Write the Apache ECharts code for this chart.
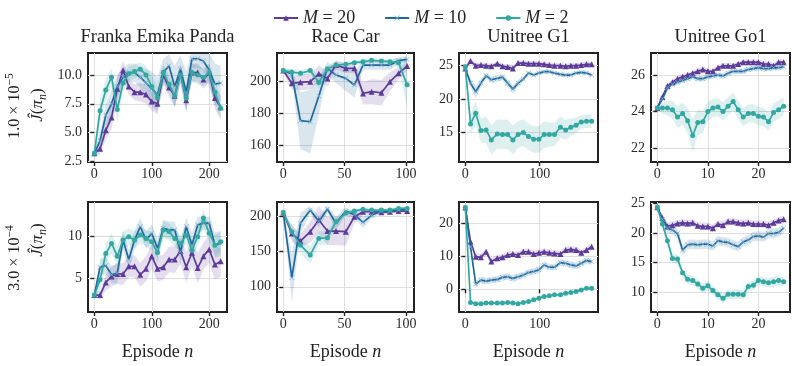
<!DOCTYPE html>
<html><head><meta charset="utf-8">
<script src="https://cdn.jsdelivr.net/npm/echarts@6/dist/echarts.min.js"></script>
<style>html,body{margin:0;padding:0;background:#fff}#c{width:792px;height:366px}</style>
</head><body><div id="c"></div>
<script>
// ---------- tick labels ----------
const frankaXTicks = [0, 100, 200];
const raceXTicks = [0, 50, 100];
const g1XTicks = [0, 100];
const go1XTicks = [0, 10, 20];
const frankaTopYTicks = [2.5, 5.0, 7.5, 10.0];
const raceTopYTicks = [160, 180, 200];
const g1TopYTicks = [15, 20, 25];
const go1TopYTicks = [22, 24, 26];
const frankaBotYTicks = [5, 10];
const raceBotYTicks = [100, 150, 200];
const g1BotYTicks = [0, 10, 20];
const go1BotYTicks = [10, 15, 20, 25];

// ---------- episodes ----------
const frankaX = [0,10,20,30,40,50,60,70,80,90,100,110,120,130,140,150,160,170,180,190,200,210,220];
const raceX = [0,7,14,22,29,36,43,51,58,65,72,80,87,94,101];
const g1X = [0,7,14,21,28,35,43,50,57,64,71,78,85,92,99,106,113,120,128,135,142,149,156,163,170];
const go1X = [0,1,2,3,4,5,6,7,8,9,10,11,12,13,14,15,16,17,18,19,20,21,22,23,24,25];

// ---------- row 1 (1.0e-5) ----------
const frankaTopM20 = [3.2,3.6,5.2,6.3,8.8,10.4,9.0,8.5,8.5,8.3,7.7,7.5,10.0,8.9,8.2,10.2,7.8,10.2,10.2,9.6,10.2,8.0,7.2];
const frankaTopM20Sd = [0.3,0.5,0.8,1.0,1.0,0.8,0.7,0.7,0.8,0.8,0.8,0.9,0.8,0.8,1.0,0.8,1.0,0.8,0.8,0.8,0.8,1.0,1.0];
const frankaTopM10 = [3.2,4.3,6.5,7.5,9.0,9.8,10.2,10.2,9.8,9.3,8.8,8.3,10.2,10.8,9.0,10.5,8.5,11.4,11.4,11.2,10.4,9.2,9.3];
const frankaTopM10Sd = [0.3,0.8,1.0,1.2,1.0,0.8,0.8,0.8,0.9,1.2,1.5,1.5,1.2,1.0,1.8,1.2,1.8,0.8,0.8,0.8,1.5,1.8,1.5];
const frankaTopM2 = [3.2,6.9,8.7,9.8,7.0,9.3,10.1,10.3,10.5,10.0,9.0,8.0,10.2,9.2,8.2,10.0,8.0,10.2,10.0,9.8,10.2,8.5,7.1];
const frankaTopM2Sd = [0.3,1.0,1.0,0.8,1.2,0.8,0.6,0.6,0.6,0.8,1.0,1.0,0.8,0.8,1.0,0.8,1.0,0.8,0.8,0.8,0.8,1.0,1.0];

const raceTopM20 = [207,199,199.6,200,205,202,210.5,208.4,208.4,192.6,193.7,193,200,205.3,209.9];
const raceTopM20Sd = [1,4,5,5,5,5,3,3,3,7,8,8,6,4,3];
const raceTopM10 = [207,204.8,175.4,174.7,191,208.4,204.2,202.1,197.9,210.5,210.5,210.5,210.5,213.3,214.1];
const raceTopM10Sd = [1,3,18,20,12,4,5,8,8,3,3,3,3,2,2];
const raceTopM2 = [207,206,205.3,207,199.5,208,210.5,211,212,212.5,213.5,213,212.6,212,198];
const raceTopM2Sd = [1,2,2,2,4,2,2,1.5,1.5,1.5,1.5,1.5,1.5,3,15];

const g1TopM20 = [24.6,25.7,25,25.1,25,24.9,25.3,24.9,24.8,24.6,25.4,25.4,25.3,25.3,25.3,25.2,25.1,25,25,24.9,25,25,25.1,25.2,25.2];
const g1TopM20Sd = [0.2,0.4,0.4,0.4,0.4,0.4,0.4,0.4,0.4,0.4,0.4,0.4,0.4,0.4,0.4,0.4,0.4,0.4,0.4,0.4,0.4,0.4,0.4,0.4,0.4];
const g1TopM10 = [24.6,22.4,21.1,22.4,23.5,22.9,23.1,23.3,22.4,21.5,22.4,23,23.9,23.6,23.9,24.1,24.1,23.9,23.7,23.6,23.6,23.9,24,23.9,23.6];
const g1TopM10Sd = [0.2,0.6,0.9,0.7,0.5,0.5,0.5,0.5,0.6,0.6,0.5,0.4,0.3,0.3,0.3,0.3,0.3,0.3,0.3,0.3,0.3,0.3,0.3,0.3,0.3];
const g1TopM2 = [24.85,16.3,17.9,15.3,15.4,13.9,14.8,14.7,14.7,13.9,14.7,15,14.4,14,14,14.7,14.7,14.7,15.8,15.4,15.8,16.1,16.6,16.7,16.7];
const g1TopM2Sd = [0.2,1.5,1.8,1.8,2.0,2.2,2.2,2.2,2.2,2.2,2.0,2.0,2.0,2.0,2.0,2.0,1.8,1.8,1.6,1.5,1.3,1.2,1.0,1.0,1.0];

const go1TopM20 = [24.2,24.8,25.4,25.6,25.8,25.9,26,26.1,26.2,26.3,26.2,26.2,26.4,26.5,26.5,26.5,26.6,26.7,26.7,26.7,26.7,26.6,26.6,26.5,26.7,26.7];
const go1TopM20Sd = [0.05,0.15,0.15,0.15,0.15,0.15,0.15,0.15,0.15,0.15,0.15,0.15,0.15,0.15,0.15,0.15,0.15,0.15,0.15,0.15,0.15,0.15,0.15,0.15,0.15,0.15];
const go1TopM10 = [24.2,24.7,25.3,25.5,25.6,25.7,25.8,25.9,25.8,25.8,25.9,25.95,26,25.95,26.1,26.2,26.2,26.2,26.3,26.35,26.4,26.35,26.35,26.4,26.4,26.45];
const go1TopM10Sd = [0.05,0.15,0.15,0.15,0.15,0.15,0.15,0.15,0.15,0.15,0.15,0.15,0.15,0.15,0.15,0.15,0.15,0.15,0.15,0.15,0.15,0.15,0.15,0.15,0.15,0.15];
const go1TopM2 = [24.2,24.2,24.2,24.1,23.7,23.9,23.5,22.7,23.4,23.45,24,24.2,24.25,24,24.3,24.55,24.1,23.7,23.9,23.9,23.75,23.7,23.45,23.95,24.1,24.3];
const go1TopM2Sd = [0.1,0.3,0.4,0.5,0.6,0.6,0.7,0.9,0.7,0.6,0.5,0.5,0.5,0.5,0.5,0.5,0.5,0.5,0.5,0.5,0.5,0.5,0.5,0.5,0.5,0.5];

// ---------- row 2 (3.0e-4) ----------
const frankaBotM20 = [3.0,3.0,4.5,5.2,5.5,5.5,6.4,6.4,5.4,6.1,7.6,6.1,6.3,7.2,7.2,8.2,6.3,8.0,6.2,7.6,8.4,6.6,7.0];
const frankaBotM20Sd = [0.3,0.5,1.0,1.2,1.2,1.3,1.3,1.3,1.4,1.5,1.5,1.5,1.5,1.5,1.6,1.6,1.8,1.6,1.8,1.6,1.6,1.8,1.8];
const frankaBotM10 = [3.0,6.3,6.5,5.4,5.6,9.5,7.2,9.5,11.1,9.5,10.3,8.5,10.9,10.7,10.7,8.1,11.1,8.9,11.3,11.5,11.5,8.9,9.1];
const frankaBotM10Sd = [0.3,1.0,1.0,1.0,1.2,1.2,1.2,1.2,1.0,1.0,1.0,1.2,1.0,1.0,1.0,1.5,1.0,1.5,1.0,0.8,0.8,1.5,1.5];
const frankaBotM2 = [3.0,4.8,7.9,9.1,7.6,9.5,9.9,9.5,10.1,9.7,9.3,8.0,10.7,10.5,9.7,9.1,10.1,8.3,9.9,12.1,10.3,8.9,9.3];
const frankaBotM2Sd = [0.3,1.2,1.2,1.2,1.2,1.0,1.0,1.0,1.0,1.0,1.0,1.2,1.0,1.0,1.0,1.0,1.0,1.2,1.0,1.0,1.0,1.2,1.2];

const raceBotM20 = [206,176.2,165.2,178.6,195.2,179.5,179.5,178.6,200,207.1,207.1,206.2,207.1,208.1,208.1];
const raceBotM20Sd = [2,12,10,15,20,20,20,20,10,5,3,3,3,2,2];
const raceBotM10 = [206,113,190.5,209.5,193,211,190.5,208,203,192,202,208,208,209.5,210.5];
const raceBotM10Sd = [2,35,15,5,8,5,10,5,5,8,5,3,3,2,2];
const raceBotM2 = [206,178.6,159.5,145.2,169,170,192.9,204.8,208.1,210.5,209.5,209.5,209.5,211.9,211.9];
const raceBotM2Sd = [2,10,12,12,10,10,6,4,3,2,2,2,2,2,2];

const g1BotM20 = [24.8,14.4,9.9,9.7,11.4,8.4,9.4,9.7,10.4,10.7,10.4,11.4,11.4,10.7,11.1,11.4,11.1,10.9,10.7,11.9,12.1,11.9,11.1,11.9,12.9];
const g1BotM20Sd = [0.2,1.0,1.0,1.0,1.0,1.0,1.0,1.0,1.0,1.0,1.0,1.0,1.0,1.0,1.0,1.0,1.0,1.0,1.0,1.0,1.0,1.0,1.0,1.0,1.0];
const g1BotM10 = [24.8,12.9,1.6,2.8,2.5,2.8,3,3.6,3.8,3.3,3.8,4.3,5.1,5.4,5.9,7.4,6.7,6.7,8.1,7.9,7.4,7.1,7.9,8.7,8.4];
const g1BotM10Sd = [0.2,1.0,1.0,1.0,1.0,1.0,1.0,1.0,1.0,1.0,1.0,1.0,1.0,1.0,1.0,1.0,1.0,1.0,1.0,1.0,1.0,1.0,1.0,1.0,1.0];
const g1BotM2 = [24.8,-4,-4.4,-4.4,-4.2,-4.2,-4.2,-4.2,-4,-4.2,-4.4,-4,-3.7,-3.2,-2.7,-2.2,-2,-1.7,-1.7,-1.2,-1,-0.7,-0.2,0.3,0.3];
const g1BotM2Sd = [0.2,0.3,0.3,0.3,0.3,0.3,0.3,0.3,0.3,0.3,0.3,0.3,0.3,0.3,0.3,0.3,0.3,0.3,0.3,0.3,0.3,0.3,0.3,0.3,0.3];

const go1BotM20 = [24.3,22.5,21.1,21.3,21.6,21.7,21.6,21.7,21.2,21.1,21.1,20.8,21.5,21.3,21.9,21.9,21.7,21.6,21.7,21.5,21.5,21.5,21.3,21.7,22.1,22.3];
const go1BotM20Sd = [0.1,0.6,0.6,0.6,0.6,0.6,0.6,0.6,0.6,0.6,0.6,0.6,0.6,0.6,0.6,0.6,0.6,0.6,0.6,0.6,0.6,0.6,0.6,0.6,0.6,0.6];
const go1BotM10 = [24.3,22.3,20.8,20.5,19.9,17.1,18,18.1,18,18.1,18.1,17.8,18.7,18.5,18.4,18,17.7,18.5,18.8,19.4,19.5,19.3,19.9,19.9,20.1,20.8];
const go1BotM10Sd = [0.1,0.7,0.8,0.8,0.8,0.8,0.8,0.8,0.8,0.8,0.8,0.8,0.8,0.8,0.8,0.8,0.8,0.8,0.8,0.8,0.8,0.8,0.8,0.8,0.8,0.8];
const go1BotM2 = [24.3,21.5,18.7,15.7,15.6,13.3,12.2,12,11.4,10.7,11.1,10.3,9.6,9,9.7,9.7,9.7,9.6,11,11.2,12,11.8,11.6,11.8,12,11.8];
const go1BotM2Sd = [0.1,0.6,0.8,0.8,0.8,0.8,0.8,0.8,0.8,0.8,0.8,0.8,0.8,0.8,0.8,0.8,0.8,0.8,0.8,0.8,0.8,0.8,0.8,0.8,0.8,0.8];

// ---------- chart ----------
const FONT = '"Liberation Serif", "DejaVu Serif", serif';
const INK = '#222222';
const C20 = '#5d3b98', C10 = '#1f689b', C2 = '#33a8a2';
const C10MARK = '#7aaccf';
const XSYM = 'path://M0,0.8L0.8,0L5,4.2L9.2,0L10,0.8L5.8,5L10,9.2L9.2,10L5,5.8L0.8,10L0,9.2L4.2,5Z';

const titles = ['Franka Emika Panda', 'Race Car', 'Unitree G1', 'Unitree Go1'];
const LEFT = [88, 277, 459, 651], WIDTH = [139, 137, 139, 139];
const TOP = [53, 202], HEIGHT = [109, 110];

const oneDec = v => v.toFixed(1);
const plain = v => String(v);
const panels = [
  {row:0,col:0,x:frankaX,xr:[-11,231],yr:[2.45,11.9],xt:frankaXTicks,yt:frankaTopYTicks,fmt:oneDec,
   m:[frankaTopM20,frankaTopM10,frankaTopM2],sd:[frankaTopM20Sd,frankaTopM10Sd,frankaTopM2Sd]},
  {row:0,col:1,x:raceX,xr:[-5.1,106.6],yr:[149.3,218.1],xt:raceXTicks,yt:raceTopYTicks,fmt:plain,
   m:[raceTopM20,raceTopM10,raceTopM2],sd:[raceTopM20Sd,raceTopM10Sd,raceTopM2Sd]},
  {row:0,col:2,x:g1X,xr:[-8.5,178.5],yr:[10.6,26.9],xt:g1XTicks,yt:g1TopYTicks,fmt:plain,
   m:[g1TopM20,g1TopM10,g1TopM2],sd:[g1TopM20Sd,g1TopM10Sd,g1TopM2Sd]},
  {row:0,col:3,x:go1X,xr:[-1.25,26.25],yr:[21.25,27.2],xt:go1XTicks,yt:go1TopYTicks,fmt:plain,
   m:[go1TopM20,go1TopM10,go1TopM2],sd:[go1TopM20Sd,go1TopM10Sd,go1TopM2Sd]},
  {row:1,col:0,x:frankaX,xr:[-11,231],yr:[1.0,14.0],xt:frankaXTicks,yt:frankaBotYTicks,fmt:plain,
   m:[frankaBotM20,frankaBotM10,frankaBotM2],sd:[frankaBotM20Sd,frankaBotM10Sd,frankaBotM2Sd]},
  {row:1,col:1,x:raceX,xr:[-5.1,106.6],yr:[64,221],xt:raceXTicks,yt:raceBotYTicks,fmt:plain,
   m:[raceBotM20,raceBotM10,raceBotM2],sd:[raceBotM20Sd,raceBotM10Sd,raceBotM2Sd]},
  {row:1,col:2,x:g1X,xr:[-8.5,178.5],yr:[-6.9,26.5],xt:g1XTicks,yt:g1BotYTicks,fmt:plain,
   m:[g1BotM20,g1BotM10,g1BotM2],sd:[g1BotM20Sd,g1BotM10Sd,g1BotM2Sd]},
  {row:1,col:3,x:go1X,xr:[-1.25,26.25],yr:[6.7,25.2],xt:go1XTicks,yt:go1BotYTicks,fmt:plain,
   m:[go1BotM20,go1BotM10,go1BotM2],sd:[go1BotM20Sd,go1BotM10Sd,go1BotM2Sd]}
];
const styles = [
  {name:'M20', color:C20, mark:C20, symbol:'triangle', size:6},
  {name:'M10', color:C10, mark:C10MARK, symbol:XSYM, size:5},
  {name:'M2',  color:C2,  mark:C2, symbol:'circle', size:5}
];

// band drawn as one polygon through the axis scales (api.coord)
function bandSeries(k, data, color) {
  return {type: 'custom', xAxisIndex: k, yAxisIndex: k, silent: true, z: 1,
    data: data, encode: {x: 0, y: [1, 2]},
    renderItem: function (params, api) {
      if (params.dataIndex !== 0) return null;
      const top = [], bot = [];
      for (let i = 0; i < data.length; i++) {
        top.push(api.coord([data[i][0], data[i][2]]));
        bot.push(api.coord([data[i][0], data[i][1]]));
      }
      const cs = params.coordSys;
      return {
        type: 'polygon', silent: true,
        shape: {points: top.concat(bot.reverse())},
        style: {fill: color, opacity: 0.17},
        clipPath: {type: 'rect', shape: {x: cs.x, y: cs.y, width: cs.width, height: cs.height}}
      };
    }};
}

const grid = [], xAxis = [], yAxis = [], series = [];
const labelStyle = {fontFamily: FONT, fontSize: 14, color: '#2a2a2a'};
panels.forEach((p, k) => {
  grid.push({left: LEFT[p.col], top: TOP[p.row], width: WIDTH[p.col], height: HEIGHT[p.row],
    show: true, borderColor: INK, borderWidth: 2, backgroundColor: 'transparent'});
  xAxis.push({gridIndex: k, type: 'value', min: p.xr[0], max: p.xr[1],
    axisLine: {show: false},
    axisTick: {show: true, length: 4, customValues: p.xt, lineStyle: {color: INK, width: 1.4}},
    axisLabel: Object.assign({customValues: p.xt, margin: 5}, labelStyle),
    splitLine: {show: true, lineStyle: {color: '#dedede', width: 1}},
    name: p.row === 1 ? '{t|Episode }{i|n}' : '', nameLocation: 'middle', nameGap: 31,
    nameTextStyle: {fontFamily: FONT, fontSize: 18, color: '#222',
      rich: {t: {fontFamily: FONT, fontSize: 18, color: '#222'},
             i: {fontFamily: FONT, fontSize: 18, fontStyle: 'italic', color: '#222'}}}
  });
  yAxis.push({gridIndex: k, type: 'value', min: p.yr[0], max: p.yr[1],
    axisLine: {show: false},
    axisTick: {show: true, length: 4, customValues: p.yt, lineStyle: {color: INK, width: 1.4}},
    axisLabel: Object.assign({customValues: p.yt, margin: 6, formatter: p.fmt}, labelStyle),
    splitLine: {show: true, lineStyle: {color: '#dedede', width: 1}}
  });
  styles.forEach((s, j) => {
    const bandData = p.x.map((x, i) => [x, p.m[j][i] - p.sd[j][i], p.m[j][i] + p.sd[j][i]]);
    series.push(bandSeries(k, bandData, s.color));
  });
  styles.forEach((s, j) => {
    series.push({name: s.name, type: 'line', xAxisIndex: k, yAxisIndex: k,
      data: p.x.map((x, i) => [x, p.m[j][i]]),
      symbol: s.symbol, symbolSize: s.size, showSymbol: true,
      lineStyle: {color: s.color, width: 1.7}, itemStyle: {color: s.mark}, z: 3 + j});
  });
});

const graphic = [];
titles.forEach((t, c) => {
  graphic.push({type: 'text', x: LEFT[c] + WIDTH[c] / 2, y: 37,
    style: {text: t, fontFamily: FONT, fontSize: 18.5, fill: '#222', align: 'center', verticalAlign: 'middle'}});
});
const rowRich = {
  b: {fontFamily: FONT, fontSize: 16, fill: '#222', verticalAlign: 'bottom'},
  sup: {fontFamily: FONT, fontSize: 11.5, fill: '#222', verticalAlign: 'bottom', padding: [0, 0, 7, 0]}
};
const jRich = {
  b: {fontFamily: FONT, fontSize: 17, fill: '#222', verticalAlign: 'top'},
  i: {fontFamily: FONT, fontSize: 17, fontStyle: 'italic', fill: '#222', verticalAlign: 'top'},
  sub: {fontFamily: FONT, fontSize: 12, fontStyle: 'italic', fill: '#222', verticalAlign: 'top', padding: [7, 0, 0, 0]}
};
[['1.0 × 10', '−5', 106, 105], ['3.0 × 10', '−4', 258, 240]].forEach(([base, exp, yc, yj]) => {
  graphic.push({type: 'text', x: 13, y: yc, rotation: Math.PI / 2,
    style: {text: '{b|' + base + '}{sup|' + exp + '}', rich: rowRich, align: 'center', verticalAlign: 'middle'}});
  graphic.push({type: 'text', x: 39, y: yj, rotation: Math.PI / 2,
    style: {text: '{i|Ĵ}{b|(}{i|π}{sub|n}{b|)}', rich: jRich, align: 'center', verticalAlign: 'middle'}});
});

const chart = echarts.init(document.getElementById('c'), null, {renderer: 'canvas'});
chart.setOption({
  animation: false,
  backgroundColor: '#fff',
  grid, xAxis, yAxis, series, graphic,
  legend: {data: ['M20', 'M10', 'M2'], top: 4, left: 268, itemGap: 29, itemWidth: 24, itemHeight: 7,
    formatter: n => '{i|M} = ' + n.slice(1),
    textStyle: {fontFamily: FONT, fontSize: 18, color: '#222',
      rich: {i: {fontFamily: FONT, fontSize: 18, fontStyle: 'italic', color: '#222'}}}}
});
</script></body></html>
